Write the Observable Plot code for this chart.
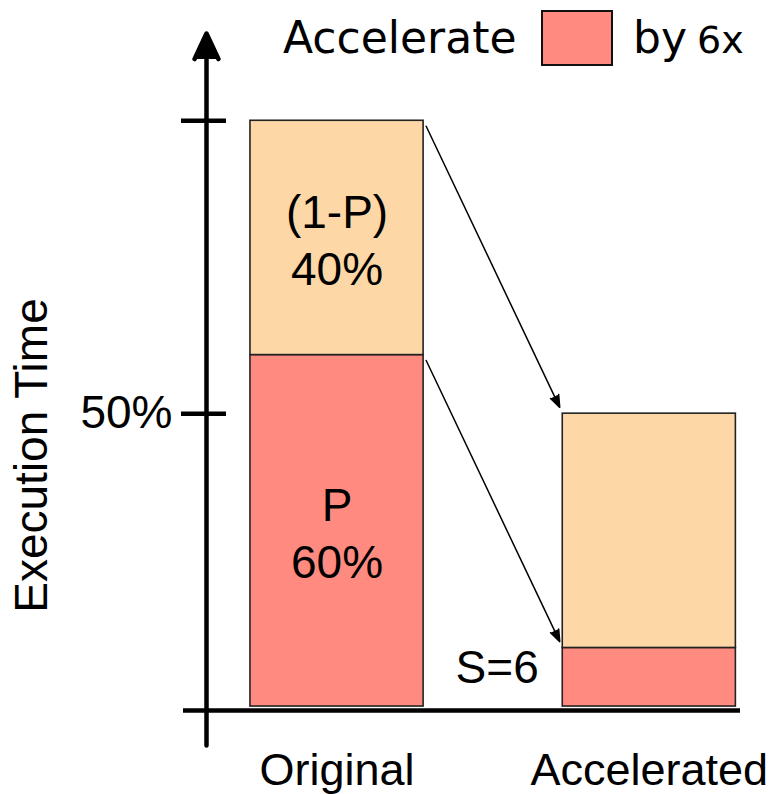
<!DOCTYPE html>
<html>
<head>
<meta charset="utf-8">
<script src="https://cdn.jsdelivr.net/npm/d3@7"></script>
<script src="https://cdn.jsdelivr.net/npm/@observablehq/plot@0.6"></script>
<style>
  html, body { margin: 0; padding: 0; background: #fff; }
  #chart { position: relative; width: 775px; height: 794px; }
  #chart svg { display: block; }
  .legend span { position: absolute; line-height: 1; font-family: "DejaVu Sans", sans-serif; color: #000; white-space: nowrap; }
  .legend .swatch { box-sizing: border-box; border: 2px solid #111; }
</style>
</head>
<body>
<div id="chart"></div>
<script>
// Execution time before and after accelerating the parallel part P by S
const categories = ["Original", "Accelerated"];
const parts = ["P", "(1-P)"];
const parallelShare = [60, 10];   // % of original execution time
const serialShare = [40, 40];
const speedup = 6;
const yTicks = [50, 100];
const yTickLabels = [50];
const yLabel = "Execution Time";
const legendWords = ["Accelerate", "by"];
const partColors = ["#ff8a80", "#fdd7a5"];

// stacked segments, parallel part at the bottom
const segments = categories.flatMap((category, index) => [
  {category, index, part: parts[0], value: parallelShare[index]},
  {category, index, part: parts[1], value: serialShare[index]}
]);

// arrows from the top of each original segment to the matching accelerated one
const links = [
  {from: parallelShare[0] + serialShare[0], to: parallelShare[1] + serialShare[1]},
  {from: parallelShare[0], to: parallelShare[1]}
];

const halfWidth = 0.2772;           // half bar width, in category units
const xDomain = [-0.418, 1.292];
const yDomain = [-6.65, 114.9];
const font = "'Liberation Sans', Arial, Helvetica, sans-serif";
const labelSize = 46;

const chart = Plot.plot({
  width: 775,
  height: 794,
  marginLeft: 206,
  marginRight: 35,
  marginTop: 33,
  marginBottom: 49,
  style: {fontFamily: font, background: "#fff", color: "#000"},
  x: {type: "linear", domain: xDomain},
  y: {domain: yDomain},
  color: {domain: parts, range: partColors},
  marks: [
    Plot.rect(segments, Plot.stackY({
      x: "index",
      x1: d => d.index - halfWidth,
      x2: d => d.index + halfWidth,
      y: "value",
      fill: "part",
      stroke: "#222",
      strokeWidth: 1.6
    })),
    Plot.text(segments, Plot.stackY({
      filter: d => d.index === 0,
      x: "index",
      y: "value",
      text: d => `${d.part}\n${d.value}%`,
      fontSize: labelSize,
      lineHeight: 1.24
    })),
    Plot.text(segments, Plot.stackY({
      filter: d => d.index === 1 && d.part === parts[0],
      x: d => d.index - halfWidth,
      y: "value",
      text: () => `S=${speedup}`,
      textAnchor: "end",
      dx: -24,
      dy: -9,
      fontSize: labelSize
    })),
    Plot.arrow(links, {
      x1: () => 0 + halfWidth,
      x2: () => 1 - halfWidth,
      y1: "from",
      y2: "to",
      stroke: "#000",
      fill: "#000",
      strokeWidth: 1.5,
      headLength: 12.8,
      headAngle: 41,
      insetStart: 6,
      insetEnd: 7
    }),
    // y axis with arrow head
    Plot.arrow([yDomain], {
      x1: () => xDomain[0],
      x2: () => xDomain[0],
      y1: d => d[0],
      y2: d => d[1],
      stroke: "#000",
      fill: "#000",
      strokeWidth: 4.5,
      headLength: 9.4,
      headAngle: 50
    }),
    // x axis line
    Plot.ruleY([0], {dy: 4, insetLeft: -23, strokeWidth: 4.5, stroke: "#000"}),
    Plot.axisY(yTicks, {
      anchor: "left",
      tickSize: 45,
      dx: 20,
      tickPadding: 9,
      strokeWidth: 4.5,
      tickFormat: d => yTickLabels.includes(d) ? `${d}%` : "",
      fontSize: labelSize,
      label: null
    }),
    Plot.axisX(categories.map((_, i) => i), {
      anchor: "bottom",
      tickSize: 0,
      tickPadding: 8,
      tickFormat: i => categories[i],
      fontSize: 45,
      label: null
    }),
    Plot.text([yLabel], {
      text: d => d,
      frameAnchor: "left",
      textAnchor: "middle",
      rotate: -90,
      dx: -174,
      dy: 66,
      fontSize: labelSize
    })
  ]
});

const root = document.getElementById("chart");
root.appendChild(chart);

// legend: "Accelerate [P] by 6x"
const legend = document.createElement("div");
legend.className = "legend";
const items = [
  {text: legendWords[0], left: 283, top: 16, size: 44},
  {swatch: partColors[0], left: 541, top: 10, width: 72, height: 56},
  {text: legendWords[1], left: 633, top: 16, size: 44},
  {text: `${speedup}x`, left: 697, top: 21, size: 38}
];
for (const item of items) {
  const span = document.createElement("span");
  span.style.left = item.left + "px";
  span.style.top = item.top + "px";
  if (item.swatch) {
    span.className = "swatch";
    span.style.width = item.width + "px";
    span.style.height = item.height + "px";
    span.style.background = item.swatch;
  } else {
    span.textContent = item.text;
    span.style.fontSize = item.size + "px";
  }
  legend.appendChild(span);
}
root.appendChild(legend);
</script>
</body>
</html>
